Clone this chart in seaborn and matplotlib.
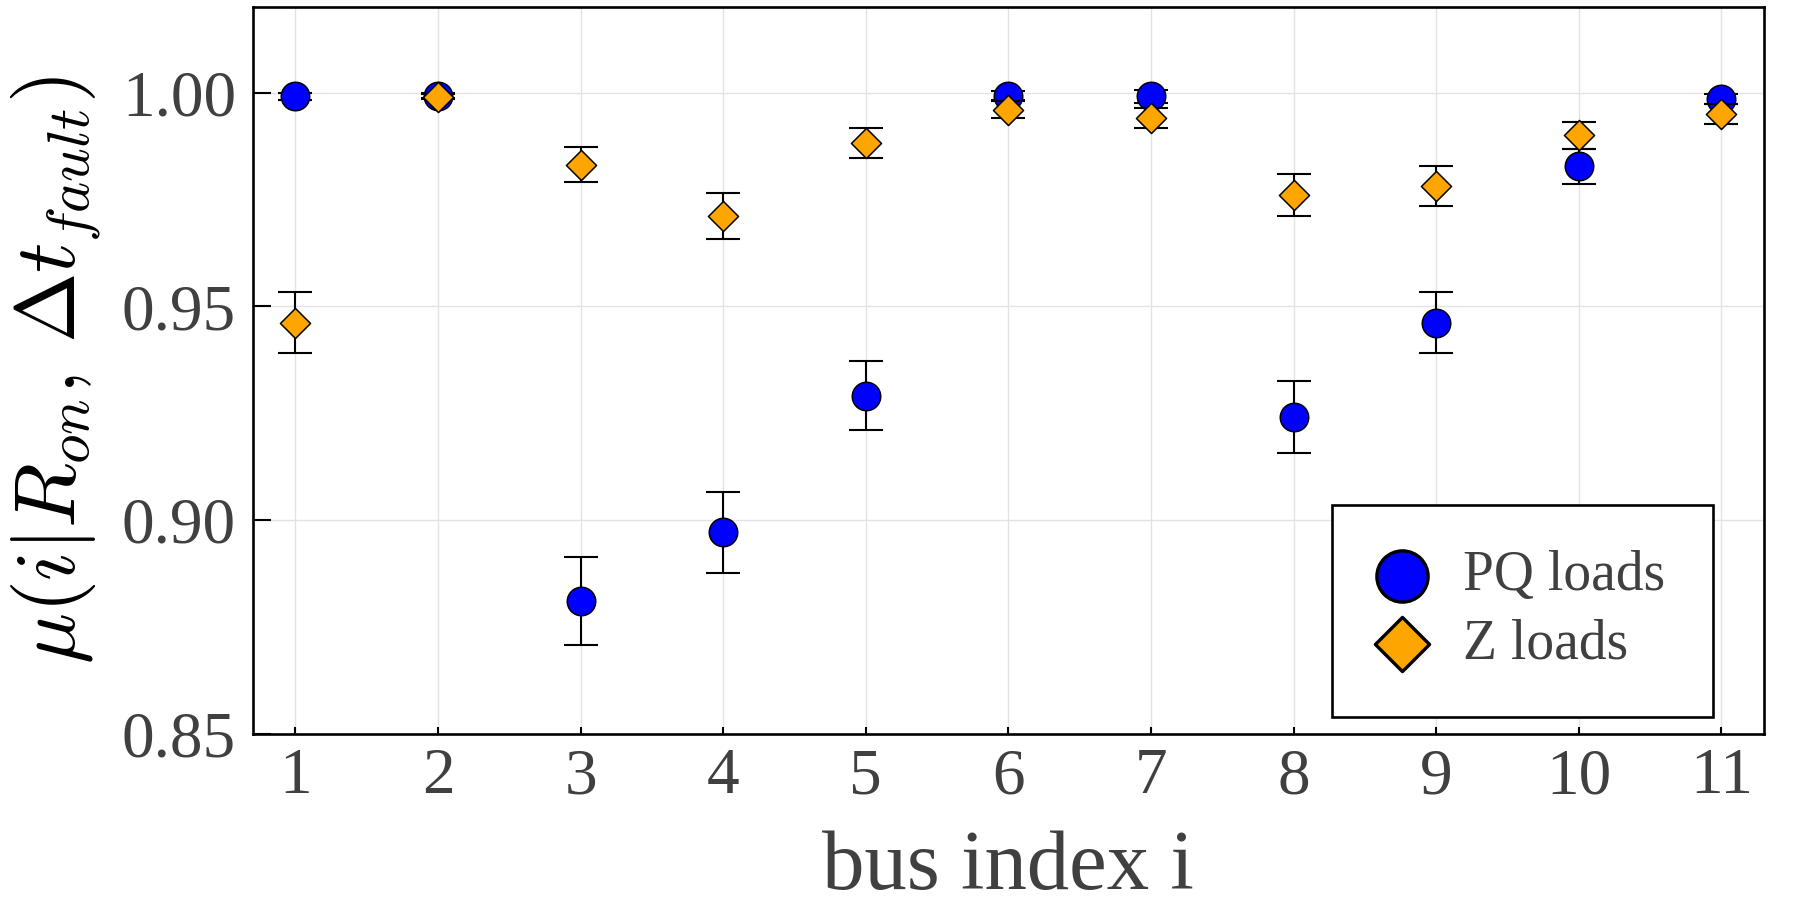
import numpy as np
import pandas as pd
import seaborn as sns
import matplotlib
matplotlib.use("Agg")
import matplotlib.pyplot as plt

# ---- data ----
bus = [1, 2, 3, 4, 5, 6, 7, 8, 9, 10, 11]
pq_mean = [0.9991, 0.9993, 0.8811, 0.8972, 0.9291, 0.9993, 0.9991, 0.9242, 0.9462, 0.9827, 0.9984]
pq_err = [0.0008, 0.0006, 0.0102, 0.0095, 0.0081, 0.0011, 0.0015, 0.0084, 0.0071, 0.0041, 0.0012]
z_mean = [0.9462, 0.9990, 0.9831, 0.9711, 0.9881, 0.9960, 0.9940, 0.9761, 0.9782, 0.9900, 0.9950]
z_err = [0.0071, 0.0006, 0.0041, 0.0053, 0.0035, 0.0020, 0.0024, 0.0049, 0.0047, 0.0031, 0.0024]
series_names = ["PQ loads", "Z loads"]
x_ticks = [1, 2, 3, 4, 5, 6, 7, 8, 9, 10, 11]
y_ticks = [0.85, 0.90, 0.95, 1.00]
y_ticklabels = ["0.85", "0.90", "0.95", "1.00"]

sns.set_theme(style="white")
plt.rcParams["font.family"] = ["Liberation Serif", "DejaVu Serif"]
plt.rcParams["mathtext.fontset"] = "cm"

TXT = "#404040"

fig = plt.figure(figsize=(17.99, 9.09), dpi=100)
ax = fig.add_axes([0.14047, 0.19252, 0.8401, 0.7998])

df_pq = pd.DataFrame({"bus": bus, "mu": pq_mean, "err": pq_err, "type": series_names[0]})
df_z = pd.DataFrame({"bus": bus, "mu": z_mean, "err": z_err, "type": series_names[1]})

ebkw = dict(fmt="none", ecolor="black", elinewidth=1.5, capsize=12.5, capthick=1.5)

ax.errorbar(df_pq["bus"], df_pq["mu"], yerr=df_pq["err"], zorder=2, **ebkw)
sns.scatterplot(data=df_pq, x="bus", y="mu", marker="o", s=420, color="#0000FF",
                edgecolor="black", linewidth=1.1, label=series_names[0], ax=ax, zorder=3)
ax.errorbar(df_z["bus"], df_z["mu"], yerr=df_z["err"], zorder=4, **ebkw)
sns.scatterplot(data=df_z, x="bus", y="mu", marker="D", s=235, color="#FFA500",
                edgecolor="black", linewidth=1.1, label=series_names[1], ax=ax, zorder=5)

ax.set_xlim(0.7, 11.3)
ax.set_ylim(0.85, 1.02)
ax.set_xticks(x_ticks)
ax.set_xticklabels([str(v) for v in x_ticks])
ax.set_yticks(y_ticks)
ax.set_yticklabels(y_ticklabels)

ax.grid(True, color="#e3e3e3", linewidth=1.0)
ax.set_axisbelow(True)
for sp in ax.spines.values():
    sp.set_visible(True)
    sp.set_color("black")
    sp.set_linewidth(1.9)

ax.tick_params(axis="both", which="major", direction="in", colors="black",
               labelcolor=TXT, labelsize=47, width=1.5)
ax.tick_params(axis="x", length=5, pad=10, bottom=True, top=False)
ax.tick_params(axis="y", length=13, pad=12, left=True, right=False)

ax.set_xlabel("bus index i", fontsize=61, color=TXT, labelpad=16)
ax.set_ylabel(r"$\mu(i|R_{on},\,\Delta t_{fault})$", fontsize=61, color="black", labelpad=14)

leg = ax.legend(loc="lower left", bbox_to_anchor=(0.714, 0.024, 0.252, 0.31), mode="expand",
                borderaxespad=0, fontsize=40, markerscale=1.8, frameon=True, fancybox=False,
                edgecolor="black", framealpha=1, labelspacing=0.3, handletextpad=0.65,
                borderpad=0.82, handlelength=0.9)
leg.get_frame().set_linewidth(1.9)
for t in leg.get_texts():
    t.set_color(TXT)
for h in leg.legend_handles:
    h.set_linewidth(2.4)

fig.savefig("out.png", dpi=100)
